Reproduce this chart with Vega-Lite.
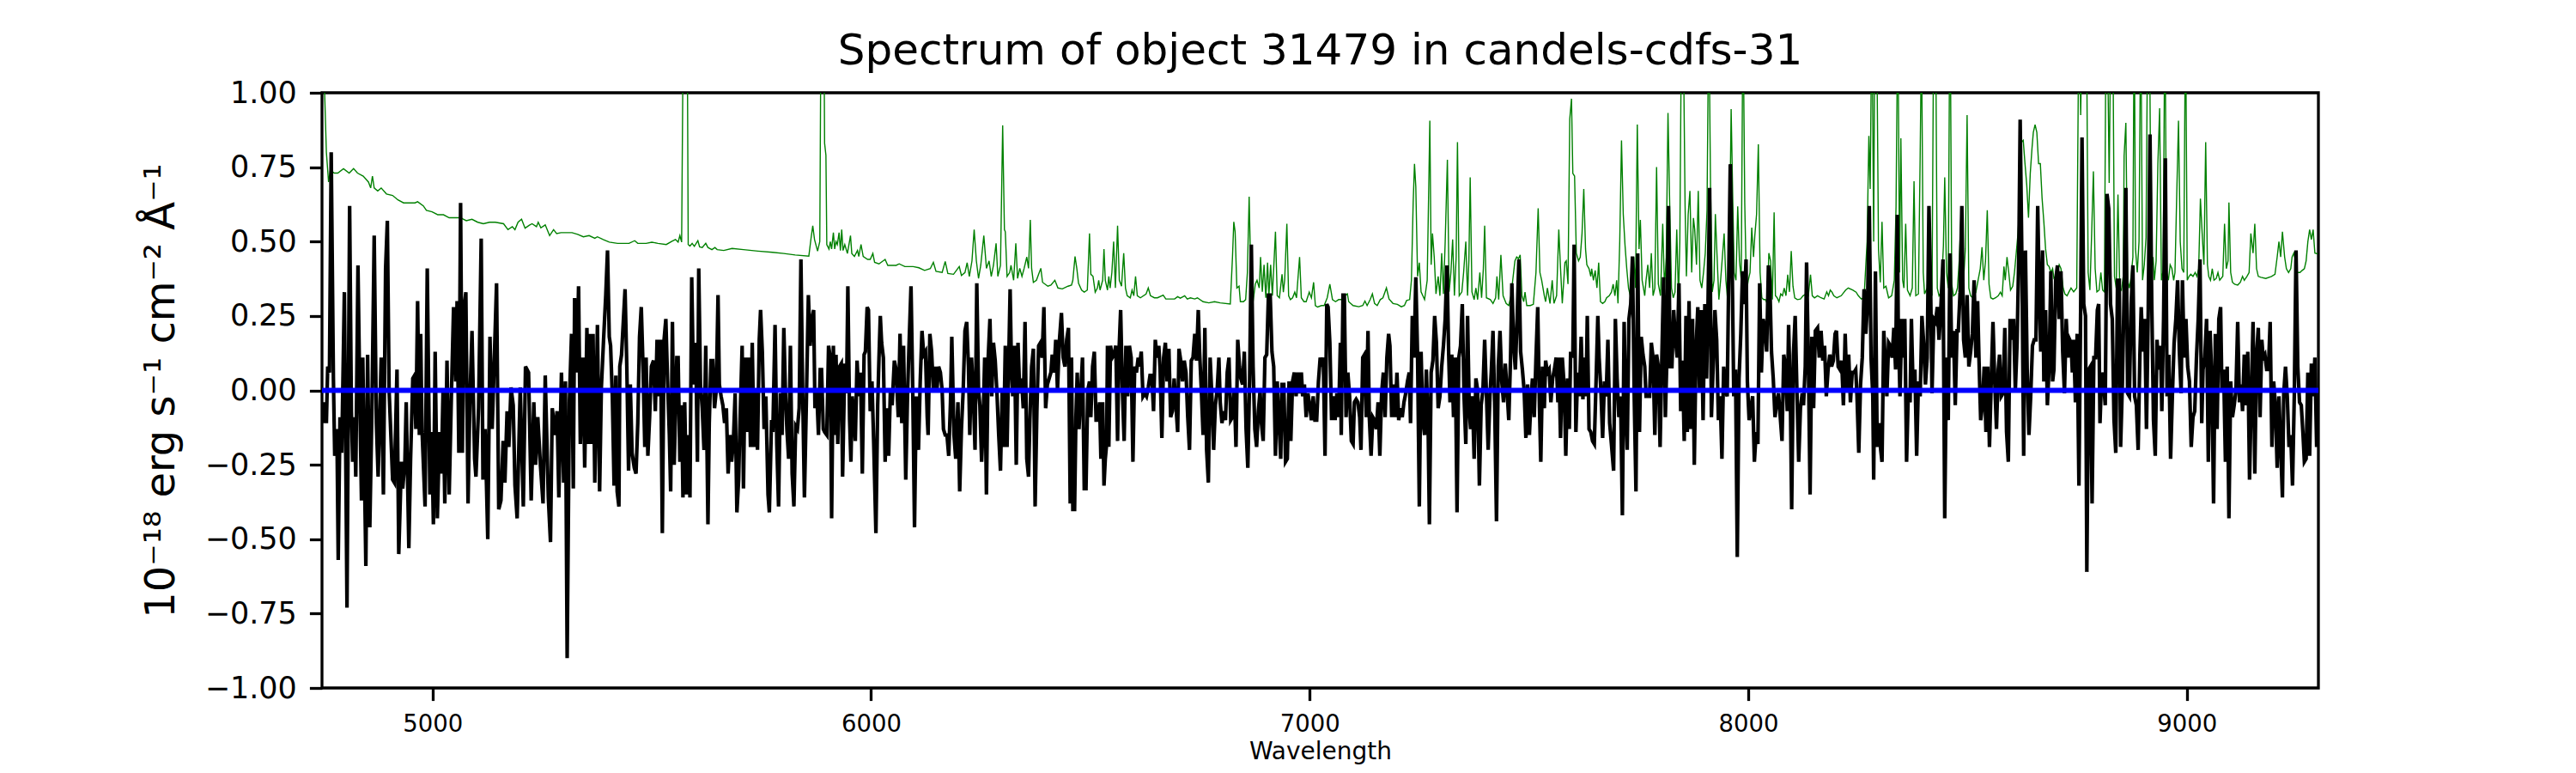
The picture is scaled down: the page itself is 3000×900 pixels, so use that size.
{
  "$schema": "https://vega.github.io/schema/vega-lite/v6.json",
  "width": 2325,
  "height": 693,
  "autosize": "none",
  "padding": {"left": 375, "top": 108, "right": 300, "bottom": 99},
  "background": "white",
  "title": {
    "text": "Spectrum of object 31479 in candels-cdfs-31",
    "font": "DejaVu Sans",
    "fontSize": 50,
    "fontWeight": "normal",
    "color": "black",
    "anchor": "middle",
    "baseline": "alphabetic",
    "offset": 8,
    "dy": 42
  },
  "config": {
    "view": {"stroke": "black", "strokeWidth": 3.3},
    "font": "DejaVu Sans",
    "axis": {
      "grid": false,
      "domain": false,
      "ticks": true,
      "tickSize": 14.6,
      "tickWidth": 3.3,
      "tickColor": "black",
      "labelColor": "black",
      "titleColor": "black",
      "labelFont": "DejaVu Sans",
      "titleFont": "DejaVu Sans",
      "titleFontWeight": "normal",
      "labelFlush": false,
      "labelOverlap": false
    }
  },
  "datasets": {
    "sky": [
      {"wave":4749,"sky":1.5},{"wave":4754,"sky":1.0},{"wave":4758,"sky":0.8},{"wave":4763,"sky":0.70},{"wave":4767,"sky":0.74},{"wave":4776,"sky":0.73},{"wave":4784,"sky":0.73},{"wave":4797,"sky":0.745},{"wave":4810,"sky":0.73},{"wave":4820,"sky":0.745},{"wave":4829,"sky":0.73},{"wave":4842,"sky":0.72},{"wave":4854,"sky":0.70},{"wave":4859,"sky":0.68},{"wave":4863,"sky":0.72},{"wave":4867,"sky":0.68},{"wave":4875,"sky":0.67},{"wave":4883,"sky":0.68},{"wave":4895,"sky":0.66},{"wave":4909,"sky":0.655},{"wave":4921,"sky":0.64},{"wave":4934,"sky":0.63},{"wave":4947,"sky":0.63},{"wave":4960,"sky":0.63},{"wave":4966,"sky":0.634},{"wave":4979,"sky":0.62},{"wave":4986,"sky":0.605},{"wave":4999,"sky":0.60},{"wave":5012,"sky":0.59},{"wave":5025,"sky":0.59},{"wave":5038,"sky":0.58},{"wave":5051,"sky":0.58},{"wave":5064,"sky":0.58},{"wave":5077,"sky":0.57},{"wave":5090,"sky":0.575},{"wave":5103,"sky":0.565},{"wave":5116,"sky":0.56},{"wave":5130,"sky":0.565},{"wave":5143,"sky":0.565},{"wave":5162,"sky":0.56},{"wave":5172,"sky":0.54},{"wave":5182,"sky":0.55},{"wave":5188,"sky":0.54},{"wave":5195,"sky":0.565},{"wave":5203,"sky":0.575},{"wave":5211,"sky":0.545},{"wave":5221,"sky":0.555},{"wave":5227,"sky":0.56},{"wave":5237,"sky":0.55},{"wave":5241,"sky":0.565},{"wave":5247,"sky":0.546},{"wave":5257,"sky":0.556},{"wave":5267,"sky":0.52},{"wave":5276,"sky":0.54},{"wave":5283,"sky":0.527},{"wave":5293,"sky":0.53},{"wave":5306,"sky":0.53},{"wave":5318,"sky":0.53},
      {"wave":5331,"sky":0.524},{"wave":5344,"sky":0.516},{"wave":5357,"sky":0.52},{"wave":5370,"sky":0.511},{"wave":5376,"sky":0.516},{"wave":5389,"sky":0.507},{"wave":5403,"sky":0.498},{"wave":5422,"sky":0.494},{"wave":5448,"sky":0.494},{"wave":5461,"sky":0.503},{"wave":5468,"sky":0.494},{"wave":5487,"sky":0.494},{"wave":5500,"sky":0.498},{"wave":5514,"sky":0.494},{"wave":5533,"sky":0.49},{"wave":5546,"sky":0.501},{"wave":5554,"sky":0.507},{"wave":5560,"sky":0.498},{"wave":5564,"sky":0.52},{"wave":5568,"sky":0.498},{"wave":5573,"sky":1.5},{"wave":5576,"sky":2.0},{"wave":5580,"sky":1.5},{"wave":5583,"sky":0.49},{"wave":5587,"sky":0.485},{"wave":5592,"sky":0.494},{"wave":5597,"sky":0.484},{"wave":5605,"sky":0.503},{"wave":5609,"sky":0.482},{"wave":5615,"sky":0.48},{"wave":5623,"sky":0.494},{"wave":5628,"sky":0.48},{"wave":5637,"sky":0.473},{"wave":5644,"sky":0.48},{"wave":5649,"sky":0.473},{"wave":5664,"sky":0.47},{"wave":5683,"sky":0.477},{"wave":5709,"sky":0.473},{"wave":5742,"sky":0.468},{"wave":5775,"sky":0.464},{"wave":5801,"sky":0.46},{"wave":5827,"sky":0.455},{"wave":5858,"sky":0.451},{"wave":5863,"sky":0.51},{"wave":5867,"sky":0.553},{"wave":5871,"sky":0.507},{"wave":5878,"sky":0.468},{"wave":5883,"sky":0.5},{"wave":5887,"sky":1.6},
      {"wave":5891,"sky":1.6},{"wave":5894,"sky":0.83},{"wave":5897,"sky":0.79},{"wave":5899,"sky":0.49},{"wave":5904,"sky":0.475},{"wave":5907,"sky":0.5},{"wave":5910,"sky":0.475},{"wave":5914,"sky":0.53},{"wave":5917,"sky":0.475},{"wave":5920,"sky":0.5},{"wave":5923,"sky":0.49},{"wave":5927,"sky":0.53},{"wave":5930,"sky":0.47},{"wave":5933,"sky":0.54},{"wave":5936,"sky":0.47},{"wave":5940,"sky":0.49},{"wave":5946,"sky":0.46},{"wave":5953,"sky":0.52},{"wave":5956,"sky":0.46},{"wave":5962,"sky":0.45},{"wave":5969,"sky":0.47},{"wave":5972,"sky":0.45},{"wave":5977,"sky":0.49},{"wave":5982,"sky":0.45},{"wave":5992,"sky":0.44},{"wave":5998,"sky":0.44},{"wave":6004,"sky":0.46},{"wave":6008,"sky":0.43},{"wave":6018,"sky":0.425},{"wave":6032,"sky":0.44},{"wave":6038,"sky":0.42},{"wave":6057,"sky":0.42},{"wave":6064,"sky":0.425},{"wave":6077,"sky":0.416},{"wave":6096,"sky":0.416},{"wave":6109,"sky":0.412},{"wave":6122,"sky":0.403},{"wave":6135,"sky":0.409},{"wave":6142,"sky":0.43},{"wave":6148,"sky":0.4},{"wave":6162,"sky":0.396},{"wave":6169,"sky":0.433},{"wave":6175,"sky":0.393},{"wave":6188,"sky":0.39},{"wave":6201,"sky":0.416},{"wave":6206,"sky":0.386},{"wave":6214,"sky":0.396},{"wave":6219,"sky":0.429},{"wave":6224,"sky":0.383},{"wave":6230,"sky":0.435},{"wave":6235,"sky":0.54},{"wave":6240,"sky":0.435},{"wave":6245,"sky":0.376},{"wave":6250,"sky":0.42},{"wave":6257,"sky":0.52},{"wave":6263,"sky":0.41},{"wave":6269,"sky":0.435},{"wave":6274,"sky":0.383},{"wave":6279,"sky":0.42},{"wave":6285,"sky":0.494},{"wave":6289,"sky":0.383},{"wave":6295,"sky":0.42},{"wave":6300,"sky":0.89},{"wave":6304,"sky":0.54},{"wave":6306,"sky":0.533},{"wave":6310,"sky":0.383},{"wave":6316,"sky":0.396},{"wave":6319,"sky":0.42},{"wave":6325,"sky":0.37},{"wave":6330,"sky":0.494},{"wave":6334,"sky":0.376},{"wave":6339,"sky":0.41},{"wave":6344,"sky":0.383},{"wave":6349,"sky":0.41},{"wave":6355,"sky":0.448},{"wave":6359,"sky":0.41},{"wave":6363,"sky":0.573},{"wave":6366,"sky":0.41},{"wave":6370,"sky":0.363},{"wave":6377,"sky":0.37},{"wave":6382,"sky":0.39},{"wave":6387,"sky":0.41},{"wave":6391,"sky":0.363},{"wave":6403,"sky":0.35},{"wave":6410,"sky":0.354},{"wave":6419,"sky":0.37},{"wave":6426,"sky":0.344},{"wave":6436,"sky":0.341},{"wave":6449,"sky":0.35},{"wave":6457,"sky":0.354},
      {"wave":6460,"sky":0.37},{"wave":6465,"sky":0.45},{"wave":6469,"sky":0.41},{"wave":6473,"sky":0.36},{"wave":6480,"sky":0.337},{"wave":6486,"sky":0.33},{"wave":6493,"sky":0.337},{"wave":6498,"sky":0.527},{"wave":6501,"sky":0.39},{"wave":6506,"sky":0.383},{"wave":6511,"sky":0.33},{"wave":6516,"sky":0.344},{"wave":6519,"sky":0.37},{"wave":6522,"sky":0.337},{"wave":6528,"sky":0.37},{"wave":6531,"sky":0.475},{"wave":6534,"sky":0.37},{"wave":6539,"sky":0.337},{"wave":6542,"sky":0.383},{"wave":6545,"sky":0.344},{"wave":6549,"sky":0.396},{"wave":6553,"sky":0.5},{"wave":6557,"sky":0.344},{"wave":6562,"sky":0.553},{"wave":6566,"sky":0.37},{"wave":6571,"sky":0.35},{"wave":6576,"sky":0.461},{"wave":6580,"sky":0.344},{"wave":6584,"sky":0.318},{"wave":6591,"sky":0.311},{"wave":6595,"sky":0.337},{"wave":6599,"sky":0.318},{"wave":6603,"sky":0.383},{"wave":6607,"sky":0.318},{"wave":6614,"sky":0.311},{"wave":6627,"sky":0.324},{"wave":6632,"sky":0.344},{"wave":6637,"sky":0.318},{"wave":6646,"sky":0.311},{"wave":6653,"sky":0.311},{"wave":6666,"sky":0.32},{"wave":6672,"sky":0.307},{"wave":6692,"sky":0.307},{"wave":6699,"sky":0.315},{"wave":6705,"sky":0.31},{"wave":6715,"sky":0.318},{"wave":6721,"sky":0.307},{"wave":6728,"sky":0.311},{"wave":6738,"sky":0.307},{"wave":6744,"sky":0.311},{"wave":6757,"sky":0.298},{"wave":6770,"sky":0.294},{"wave":6783,"sky":0.298},{"wave":6796,"sky":0.294},{"wave":6819,"sky":0.29},{"wave":6824,"sky":0.448},{"wave":6827,"sky":0.566},{"wave":6830,"sky":0.533},{"wave":6834,"sky":0.344},{"wave":6839,"sky":0.35},{"wave":6842,"sky":0.298},{"wave":6849,"sky":0.298},{"wave":6854,"sky":0.305},{"wave":6858,"sky":0.396},{"wave":6862,"sky":0.651},{"wave":6866,"sky":0.37},{"wave":6871,"sky":0.298},{"wave":6876,"sky":0.357},{"wave":6880,"sky":0.37},{"wave":6885,"sky":0.344},{"wave":6888,"sky":0.448},{"wave":6892,"sky":0.331},{"wave":6896,"sky":0.422},{"wave":6900,"sky":0.311},{"wave":6904,"sky":0.429},{"wave":6907,"sky":0.318},{"wave":6911,"sky":0.422},{"wave":6915,"sky":0.318},{"wave":6922,"sky":0.533},{"wave":6926,"sky":0.318},{"wave":6931,"sky":0.311},{"wave":6937,"sky":0.39},{"wave":6940,"sky":0.33},{"wave":6943,"sky":0.37},{"wave":6948,"sky":0.56},{"wave":6952,"sky":0.318},{"wave":6956,"sky":0.305},{"wave":6961,"sky":0.311},{"wave":6966,"sky":0.33},{"wave":6970,"sky":0.311},{"wave":6973,"sky":0.37},{"wave":6977,"sky":0.448},{"wave":6981,"sky":0.311},{"wave":6987,"sky":0.298},{"wave":6992,"sky":0.298},{"wave":6999,"sky":0.33},{"wave":7004,"sky":0.311},{"wave":7009,"sky":0.363},{"wave":7013,"sky":0.285},{"wave":7018,"sky":0.28},{"wave":7027,"sky":0.285},
      {"wave":7033,"sky":0.285},{"wave":7040,"sky":0.311},{"wave":7046,"sky":0.357},{"wave":7052,"sky":0.305},{"wave":7059,"sky":0.298},{"wave":7066,"sky":0.305},{"wave":7072,"sky":0.305},{"wave":7079,"sky":0.318},{"wave":7086,"sky":0.324},{"wave":7089,"sky":0.298},{"wave":7099,"sky":0.285},{"wave":7112,"sky":0.281},{"wave":7121,"sky":0.285},{"wave":7126,"sky":0.3},{"wave":7131,"sky":0.285},{"wave":7138,"sky":0.305},{"wave":7143,"sky":0.324},{"wave":7148,"sky":0.292},{"wave":7154,"sky":0.285},{"wave":7161,"sky":0.305},{"wave":7167,"sky":0.311},{"wave":7175,"sky":0.344},{"wave":7181,"sky":0.307},{"wave":7190,"sky":0.292},{"wave":7200,"sky":0.289},{"wave":7209,"sky":0.281},{"wave":7216,"sky":0.285},{"wave":7221,"sky":0.302},{"wave":7228,"sky":0.305},{"wave":7232,"sky":0.37},{"wave":7236,"sky":0.631},{"wave":7239,"sky":0.761},{"wave":7242,"sky":0.684},{"wave":7246,"sky":0.383},{"wave":7250,"sky":0.429},{"wave":7254,"sky":0.331},{"wave":7262,"sky":0.305},{"wave":7268,"sky":0.37},{"wave":7274,"sky":0.906},{"wave":7277,"sky":0.422},{"wave":7280,"sky":0.527},{"wave":7284,"sky":0.448},{"wave":7288,"sky":0.324},{"wave":7293,"sky":0.383},{"wave":7297,"sky":0.318},{"wave":7301,"sky":0.461},{"wave":7305,"sky":0.324},{"wave":7309,"sky":0.5},{"wave":7314,"sky":0.775},{"wave":7318,"sky":0.331},{"wave":7322,"sky":0.396},{"wave":7326,"sky":0.507},{"wave":7330,"sky":0.318},{"wave":7334,"sky":0.448},{"wave":7337,"sky":0.834},{"wave":7341,"sky":0.318},{"wave":7347,"sky":0.331},{"wave":7351,"sky":0.396},{"wave":7356,"sky":0.5},{"wave":7360,"sky":0.318},{"wave":7363,"sky":0.435},{"wave":7366,"sky":0.716},{"wave":7370,"sky":0.331},{"wave":7375,"sky":0.305},{"wave":7379,"sky":0.344},{"wave":7383,"sky":0.305},{"wave":7388,"sky":0.396},{"wave":7392,"sky":0.311},{"wave":7396,"sky":0.409},{"wave":7399,"sky":0.553},{"wave":7403,"sky":0.311},{"wave":7412,"sky":0.305},{"wave":7418,"sky":0.292},{"wave":7424,"sky":0.311},{"wave":7427,"sky":0.383},{"wave":7431,"sky":0.305},{"wave":7436,"sky":0.455},{"wave":7441,"sky":0.318},{"wave":7448,"sky":0.292},{"wave":7454,"sky":0.285},{"wave":7459,"sky":0.318},{"wave":7463,"sky":0.37},{"wave":7468,"sky":0.435},{"wave":7472,"sky":0.448},{"wave":7476,"sky":0.442},{"wave":7480,"sky":0.455},{"wave":7484,"sky":0.318},{"wave":7488,"sky":0.298},{"wave":7491,"sky":0.33},{"wave":7495,"sky":0.285},{"wave":7503,"sky":0.285},{"wave":7510,"sky":0.289},{"wave":7516,"sky":0.396},{"wave":7521,"sky":0.612},{"wave":7525,"sky":0.396},{"wave":7529,"sky":0.37},{"wave":7535,"sky":0.318},{"wave":7538,"sky":0.298},{"wave":7542,"sky":0.344},{"wave":7548,"sky":0.292},{"wave":7553,"sky":0.37},{"wave":7557,"sky":0.292},{"wave":7563,"sky":0.318},{"wave":7568,"sky":0.54},{"wave":7572,"sky":0.409},{"wave":7576,"sky":0.292},{"wave":7582,"sky":0.429},{"wave":7585,"sky":0.435},{"wave":7589,"sky":0.357},{"wave":7593,"sky":0.912},{"wave":7597,"sky":0.98},
      {"wave":7600,"sky":0.729},{"wave":7604,"sky":0.72},{"wave":7608,"sky":0.461},{"wave":7613,"sky":0.435},{"wave":7617,"sky":0.448},{"wave":7621,"sky":0.527},{"wave":7625,"sky":0.677},{"wave":7629,"sky":0.475},{"wave":7632,"sky":0.422},{"wave":7637,"sky":0.409},{"wave":7641,"sky":0.383},{"wave":7643,"sky":0.409},{"wave":7647,"sky":0.37},{"wave":7651,"sky":0.403},{"wave":7655,"sky":0.344},{"wave":7659,"sky":0.429},{"wave":7663,"sky":0.298},{"wave":7668,"sky":0.292},{"wave":7673,"sky":0.298},{"wave":7677,"sky":0.311},{"wave":7683,"sky":0.318},{"wave":7688,"sky":0.33},{"wave":7692,"sky":0.357},{"wave":7696,"sky":0.318},{"wave":7700,"sky":0.37},{"wave":7703,"sky":0.292},{"wave":7707,"sky":0.5},{"wave":7711,"sky":0.84},{"wave":7715,"sky":0.592},{"wave":7719,"sky":0.488},{"wave":7723,"sky":0.409},{"wave":7727,"sky":0.344},{"wave":7731,"sky":0.318},{"wave":7735,"sky":0.357},{"wave":7739,"sky":0.448},{"wave":7743,"sky":0.344},{"wave":7747,"sky":0.893},{"wave":7751,"sky":0.475},{"wave":7754,"sky":0.573},{"wave":7758,"sky":0.37},{"wave":7764,"sky":0.318},{"wave":7767,"sky":0.37},{"wave":7771,"sky":0.422},{"wave":7775,"sky":0.344},{"wave":7779,"sky":0.461},{"wave":7783,"sky":0.318},{"wave":7787,"sky":0.344},{"wave":7791,"sky":0.75},{"wave":7795,"sky":0.357},{"wave":7800,"sky":0.318},{"wave":7805,"sky":0.56},{"wave":7809,"sky":0.344},{"wave":7813,"sky":0.448},{"wave":7817,"sky":0.932},{"wave":7821,"sky":0.618},{"wave":7825,"sky":0.344},{"wave":7829,"sky":0.311},{"wave":7833,"sky":0.33},{"wave":7837,"sky":0.54},{"wave":7841,"sky":0.311},{"wave":7844,"sky":0.5},{"wave":7848,"sky":1.3},{"wave":7852,"sky":1.2},{"wave":7856,"sky":0.618},{"wave":7859,"sky":0.383},{"wave":7863,"sky":0.59},{"wave":7867,"sky":0.67},{"wave":7871,"sky":0.396},{"wave":7875,"sky":0.579},{"wave":7878,"sky":0.54},{"wave":7882,"sky":0.422},{"wave":7886,"sky":0.67},{"wave":7890,"sky":0.37},{"wave":7894,"sky":0.344},{"wave":7898,"sky":0.396},{"wave":7902,"sky":0.461},{"wave":7906,"sky":0.605},{"wave":7910,"sky":1.3},{"wave":7914,"sky":0.684},{"wave":7918,"sky":0.331},{"wave":7922,"sky":0.37},{"wave":7925,"sky":0.592},{"wave":7929,"sky":0.448},{"wave":7933,"sky":0.305},{"wave":7937,"sky":0.37},{"wave":7941,"sky":0.448},{"wave":7945,"sky":0.527},{"wave":7949,"sky":0.37},{"wave":7953,"sky":0.305},{"wave":7957,"sky":0.461},{"wave":7961,"sky":0.945},{"wave":7965,"sky":0.618},{"wave":7968,"sky":0.396},{"wave":7972,"sky":0.37},{"wave":7976,"sky":0.618},{"wave":7980,"sky":0.435},{"wave":7984,"sky":0.37},{"wave":7988,"sky":1.3},{"wave":7992,"sky":0.631},{"wave":7996,"sky":0.331},{"wave":8000,"sky":0.37},{"wave":8004,"sky":0.396},{"wave":8008,"sky":0.547},{"wave":8012,"sky":0.448},{"wave":8015,"sky":0.52},{"wave":8019,"sky":0.592},{"wave":8023,"sky":0.827},{"wave":8027,"sky":0.396},{"wave":8031,"sky":0.311},{"wave":8035,"sky":0.305},{"wave":8039,"sky":0.305},{"wave":8043,"sky":0.292},{"wave":8047,"sky":0.461},{"wave":8051,"sky":0.435},{"wave":8055,"sky":0.305},{"wave":8059,"sky":0.598},{"wave":8062,"sky":0.318},{"wave":8066,"sky":0.311},{"wave":8070,"sky":0.298},{"wave":8074,"sky":0.324},{"wave":8078,"sky":0.318},{"wave":8082,"sky":0.344},{"wave":8086,"sky":0.318},{"wave":8090,"sky":0.389},{"wave":8094,"sky":0.331},{"wave":8098,"sky":0.468},{"wave":8102,"sky":0.35},{"wave":8106,"sky":0.311},{"wave":8112,"sky":0.305},{"wave":8119,"sky":0.307},{"wave":8125,"sky":0.318},{"wave":8132,"sky":0.324},{"wave":8137,"sky":0.318},{"wave":8142,"sky":0.389},{"wave":8146,"sky":0.318},{"wave":8151,"sky":0.311},{"wave":8158,"sky":0.318},{"wave":8166,"sky":0.311},
      {"wave":8173,"sky":0.307},{"wave":8179,"sky":0.331},{"wave":8183,"sky":0.318},{"wave":8187,"sky":0.337},{"wave":8191,"sky":0.33},{"wave":8195,"sky":0.318},{"wave":8202,"sky":0.311},{"wave":8212,"sky":0.318},{"wave":8222,"sky":0.337},{"wave":8228,"sky":0.344},{"wave":8238,"sky":0.337},{"wave":8246,"sky":0.33},{"wave":8251,"sky":0.318},{"wave":8258,"sky":0.307},{"wave":8264,"sky":0.311},{"wave":8271,"sky":0.5},{"wave":8275,"sky":0.855},{"wave":8278,"sky":0.677},{"wave":8282,"sky":1.3},{"wave":8286,"sky":0.5},{"wave":8289,"sky":1.4},{"wave":8293,"sky":1.2},{"wave":8297,"sky":0.475},{"wave":8301,"sky":0.363},{"wave":8305,"sky":0.566},{"wave":8309,"sky":0.344},{"wave":8314,"sky":0.35},{"wave":8320,"sky":0.311},{"wave":8327,"sky":0.318},{"wave":8333,"sky":0.37},{"wave":8337,"sky":0.618},{"wave":8341,"sky":1.3},{"wave":8345,"sky":0.396},{"wave":8348,"sky":0.847},{"wave":8352,"sky":0.37},{"wave":8355,"sky":0.344},{"wave":8359,"sky":0.56},{"wave":8363,"sky":0.337},{"wave":8369,"sky":0.318},{"wave":8374,"sky":0.344},{"wave":8378,"sky":0.703},{"wave":8382,"sky":0.318},{"wave":8388,"sky":0.324},{"wave":8392,"sky":0.79},{"wave":8395,"sky":1.2},{"wave":8399,"sky":0.396},{"wave":8402,"sky":0.324},{"wave":8408,"sky":0.344},{"wave":8412,"sky":0.448},{"wave":8415,"sky":0.396},{"wave":8419,"sky":0.318},{"wave":8423,"sky":1.3},{"wave":8427,"sky":1.3},{"wave":8431,"sky":0.344},{"wave":8435,"sky":0.318},{"wave":8440,"sky":0.33},{"wave":8445,"sky":0.486},{"wave":8448,"sky":0.716},{"wave":8452,"sky":0.396},{"wave":8456,"sky":0.344},{"wave":8460,"sky":1.4},{"wave":8464,"sky":0.357},{"wave":8468,"sky":0.318},{"wave":8473,"sky":0.324},{"wave":8477,"sky":0.344},{"wave":8481,"sky":0.435},{"wave":8485,"sky":0.58},{"wave":8490,"sky":0.344},{"wave":8495,"sky":0.475},{"wave":8499,"sky":0.925},{"wave":8503,"sky":0.344},{"wave":8507,"sky":0.318},{"wave":8512,"sky":0.311},{"wave":8519,"sky":0.33},{"wave":8524,"sky":0.37},{"wave":8529,"sky":0.409},{"wave":8533,"sky":0.481},{"wave":8537,"sky":0.37},{"wave":8541,"sky":0.435},{"wave":8545,"sky":0.605},{"wave":8549,"sky":0.357},{"wave":8553,"sky":0.311},{"wave":8558,"sky":0.307},{"wave":8564,"sky":0.311},{"wave":8570,"sky":0.318},{"wave":8575,"sky":0.33},{"wave":8579,"sky":0.318},{"wave":8583,"sky":0.416},{"wave":8586,"sky":0.37},{"wave":8590,"sky":0.448},{"wave":8594,"sky":0.396},{"wave":8598,"sky":0.337},{"wave":8603,"sky":0.35},{"wave":8607,"sky":0.396},{"wave":8611,"sky":0.461},{"wave":8615,"sky":0.527},{"wave":8619,"sky":0.631},{"wave":8623,"sky":0.834},{"wave":8627,"sky":0.84},{"wave":8631,"sky":0.762},{"wave":8635,"sky":0.69},{"wave":8639,"sky":0.58},{"wave":8643,"sky":0.729},{"wave":8647,"sky":0.814},{"wave":8650,"sky":0.867},{"wave":8654,"sky":0.893},{"wave":8658,"sky":0.867},{"wave":8662,"sky":0.762},{"wave":8666,"sky":0.762},{"wave":8670,"sky":0.645},{"wave":8674,"sky":0.566},{"wave":8678,"sky":0.475},{"wave":8682,"sky":0.422},{"wave":8686,"sky":0.416},{"wave":8690,"sky":0.396},{"wave":8694,"sky":0.409},{"wave":8697,"sky":0.377},{"wave":8701,"sky":0.383},{"wave":8705,"sky":0.396},{"wave":8709,"sky":0.422},{"wave":8713,"sky":0.409},{"wave":8718,"sky":0.344},{"wave":8722,"sky":0.324},{"wave":8727,"sky":0.318},{"wave":8731,"sky":0.33},{"wave":8736,"sky":0.344},
      {"wave":8742,"sky":0.331},{"wave":8749,"sky":0.344},{"wave":8754,"sky":1.3},{"wave":8758,"sky":0.925},{"wave":8762,"sky":1.3},{"wave":8767,"sky":1.4},{"wave":8771,"sky":1.3},{"wave":8775,"sky":0.396},{"wave":8779,"sky":0.337},{"wave":8783,"sky":0.527},{"wave":8787,"sky":0.736},{"wave":8791,"sky":0.409},{"wave":8795,"sky":0.331},{"wave":8800,"sky":0.337},{"wave":8804,"sky":0.396},{"wave":8808,"sky":0.337},{"wave":8812,"sky":0.331},{"wave":8816,"sky":1.3},{"wave":8819,"sky":1.2},{"wave":8823,"sky":0.697},{"wave":8827,"sky":1.3},{"wave":8831,"sky":1.3},{"wave":8835,"sky":0.383},{"wave":8839,"sky":0.344},{"wave":8843,"sky":0.658},{"wave":8847,"sky":0.344},{"wave":8851,"sky":0.337},{"wave":8855,"sky":0.383},{"wave":8857,"sky":0.788},{"wave":8861,"sky":0.899},{"wave":8865,"sky":0.37},{"wave":8869,"sky":0.344},{"wave":8873,"sky":0.383},{"wave":8877,"sky":0.448},{"wave":8880,"sky":1.3},{"wave":8883,"sky":0.475},{"wave":8887,"sky":0.396},{"wave":8891,"sky":0.5},{"wave":8895,"sky":1.3},{"wave":8899,"sky":0.37},{"wave":8903,"sky":0.422},{"wave":8907,"sky":0.514},{"wave":8911,"sky":1.3},{"wave":8915,"sky":1.2},{"wave":8919,"sky":0.396},{"wave":8923,"sky":0.448},{"wave":8926,"sky":0.37},{"wave":8930,"sky":0.435},{"wave":8934,"sky":0.762},{"wave":8938,"sky":0.948},{"wave":8942,"sky":0.37},{"wave":8946,"sky":0.403},{"wave":8950,"sky":1.3},{"wave":8954,"sky":0.396},{"wave":8958,"sky":0.37},{"wave":8962,"sky":0.422},{"wave":8966,"sky":0.409},{"wave":8970,"sky":0.37},{"wave":8973,"sky":0.396},{"wave":8977,"sky":0.658},{"wave":8981,"sky":0.906},{"wave":8985,"sky":0.5},{"wave":8989,"sky":0.409},{"wave":8993,"sky":0.396},{"wave":8997,"sky":1.3},{"wave":9001,"sky":0.37},{"wave":9005,"sky":0.383},{"wave":9009,"sky":0.39},{"wave":9014,"sky":0.383},{"wave":9019,"sky":0.396},{"wave":9023,"sky":0.383},{"wave":9027,"sky":0.409},{"wave":9031,"sky":0.644},{"wave":9035,"sky":0.527},{"wave":9039,"sky":0.422},{"wave":9043,"sky":0.834},{"wave":9047,"sky":0.422},{"wave":9050,"sky":0.383},{"wave":9054,"sky":0.37},{"wave":9058,"sky":0.409},{"wave":9062,"sky":0.37},{"wave":9067,"sky":0.376},{"wave":9071,"sky":0.396},{"wave":9075,"sky":0.37},{"wave":9082,"sky":0.383},{"wave":9086,"sky":0.56},{"wave":9090,"sky":0.409},{"wave":9094,"sky":0.435},{"wave":9096,"sky":0.631},{"wave":9100,"sky":0.396},{"wave":9104,"sky":0.363},{"wave":9109,"sky":0.357},{"wave":9116,"sky":0.354},{"wave":9122,"sky":0.363},{"wave":9127,"sky":0.383},{"wave":9131,"sky":0.37},{"wave":9137,"sky":0.383},{"wave":9142,"sky":0.396},{"wave":9146,"sky":0.527},{"wave":9151,"sky":0.461},{"wave":9155,"sky":0.56},{"wave":9159,"sky":0.409},{"wave":9163,"sky":0.383},{"wave":9169,"sky":0.38},{"wave":9180,"sky":0.376},{"wave":9193,"sky":0.383},{"wave":9201,"sky":0.39},{"wave":9206,"sky":0.448},{"wave":9210,"sky":0.5},{"wave":9214,"sky":0.448},{"wave":9218,"sky":0.533},{"wave":9223,"sky":0.448},{"wave":9227,"sky":0.409},{"wave":9232,"sky":0.396},{"wave":9237,"sky":0.409},{"wave":9240,"sky":0.448},{"wave":9244,"sky":0.461},{"wave":9248,"sky":0.435},{"wave":9251,"sky":0.396},{"wave":9258,"sky":0.396},{"wave":9263,"sky":0.403},{"wave":9268,"sky":0.409},{"wave":9272,"sky":0.435},{"wave":9276,"sky":0.5},{"wave":9280,"sky":0.54},{"wave":9284,"sky":0.507},{"wave":9288,"sky":0.54},{"wave":9292,"sky":0.461},{"wave":9298,"sky":0.459}
    ],
    "flux": [
      {"wave":4750,"flux":-0.11},{"wave":4754,"flux":-0.04},{"wave":4758,"flux":-0.11},{"wave":4761,"flux":0.08},{"wave":4765,"flux":0.06},{"wave":4769,"flux":0.80},{"wave":4774,"flux":0.04},{"wave":4777,"flux":-0.22},{"wave":4782,"flux":-0.13},{"wave":4785,"flux":-0.57},{"wave":4789,"flux":-0.09},{"wave":4793,"flux":-0.21},{"wave":4799,"flux":0.33},{"wave":4802,"flux":-0.19},{"wave":4805,"flux":-0.73},{"wave":4811,"flux":0.62},{"wave":4815,"flux":-0.07},{"wave":4818,"flux":-0.24},{"wave":4822,"flux":-0.09},{"wave":4825,"flux":-0.29},{"wave":4830,"flux":0.42},{"wave":4835,"flux":-0.10},{"wave":4838,"flux":-0.37},{"wave":4841,"flux":0.11},{"wave":4848,"flux":-0.59},{"wave":4852,"flux":0.12},{"wave":4857,"flux":-0.46},{"wave":4862,"flux":-0.05},{"wave":4867,"flux":0.52},{"wave":4872,"flux":-0.11},{"wave":4876,"flux":-0.29},{"wave":4883,"flux":0.11},{"wave":4888,"flux":-0.35},{"wave":4893,"flux":0.41},{"wave":4897,"flux":0.57},{"wave":4901,"flux":0.0},{"wave":4909,"flux":-0.30},{"wave":4913,"flux":-0.31},{"wave":4919,"flux":0.07},{"wave":4923,"flux":-0.55},{"wave":4929,"flux":-0.24},{"wave":4932,"flux":-0.33},{"wave":4937,"flux":-0.24},{"wave":4940,"flux":-0.04},{"wave":4946,"flux":-0.53},{"wave":4950,"flux":-0.23},{"wave":4955,"flux":0.04},{"wave":4959,"flux":0.05},{"wave":4962,"flux":-0.13},{"wave":4966,"flux":0.30},{"wave":4970,"flux":-0.15},{"wave":4973,"flux":0.19},{"wave":4976,"flux":-0.13},{"wave":4983,"flux":-0.39},{"wave":4988,"flux":0.41},{"wave":4994,"flux":-0.35},{"wave":4998,"flux":-0.14},{"wave":5002,"flux":-0.45},{"wave":5006,"flux":0.13},{"wave":5011,"flux":-0.43},{"wave":5016,"flux":-0.14},{"wave":5020,"flux":-0.28},{"wave":5024,"flux":0.0},{"wave":5028,"flux":-0.38},{"wave":5033,"flux":0.10},{"wave":5038,"flux":-0.35},{"wave":5043,"flux":-0.02},{"wave":5048,"flux":0.28},{"wave":5053,"flux":0.03},{"wave":5056,"flux":0.30},{"wave":5060,"flux":-0.21},{"wave":5064,"flux":0.63},{"wave":5068,"flux":-0.21},{"wave":5072,"flux":0.28},{"wave":5076,"flux":0.33},{"wave":5081,"flux":-0.38},{"wave":5085,"flux":-0.05},{"wave":5090,"flux":0.20},{"wave":5096,"flux":-0.23},{"wave":5099,"flux":-0.29},{"wave":5105,"flux":-0.06},{"wave":5111,"flux":0.51},{"wave":5115,"flux":-0.30},{"wave":5120,"flux":-0.13},{"wave":5126,"flux":-0.50},{"wave":5131,"flux":0.18},{"wave":5136,"flux":-0.13},{"wave":5140,"flux":0.06},{"wave":5146,"flux":0.36},{"wave":5151,"flux":-0.40},{"wave":5156,"flux":-0.37},{"wave":5161,"flux":-0.17},{"wave":5165,"flux":-0.31},{"wave":5170,"flux":-0.07},{"wave":5174,"flux":-0.19},{"wave":5179,"flux":0.01},{"wave":5184,"flux":-0.05},{"wave":5188,"flux":-0.32},{"wave":5193,"flux":-0.43},{"wave":5200,"flux":0.01},{"wave":5207,"flux":-0.39},{"wave":5212,"flux":0.08},{"wave":5219,"flux":0.06},{"wave":5225,"flux":-0.37},{"wave":5231,"flux":-0.04},{"wave":5235,"flux":-0.25},{"wave":5240,"flux":-0.09},{"wave":5246,"flux":-0.25},{"wave":5252,"flux":-0.38},{"wave":5257,"flux":0.05},{"wave":5264,"flux":-0.36},{"wave":5269,"flux":-0.51},{"wave":5273,"flux":-0.06},{"wave":5280,"flux":-0.15},{"wave":5284,"flux":-0.07},{"wave":5288,"flux":-0.36},{"wave":5294,"flux":0.06},{"wave":5299,"flux":-0.31},{"wave":5303,"flux":0.03},{"wave":5307,"flux":-0.90},{"wave":5312,"flux":-0.04},{"wave":5317,"flux":0.19},
      {"wave":5321,"flux":-0.33},{"wave":5324,"flux":0.31},{"wave":5329,"flux":0.06},{"wave":5333,"flux":0.35},{"wave":5337,"flux":-0.18},{"wave":5343,"flux":0.11},{"wave":5347,"flux":-0.26},{"wave":5352,"flux":0.21},{"wave":5356,"flux":-0.18},{"wave":5358,"flux":0.19},{"wave":5362,"flux":-0.18},{"wave":5366,"flux":0.19},{"wave":5370,"flux":-0.31},{"wave":5373,"flux":-0.06},{"wave":5376,"flux":0.22},{"wave":5381,"flux":-0.34},{"wave":5385,"flux":0.01},{"wave":5390,"flux":0.17},{"wave":5395,"flux":0.32},{"wave":5399,"flux":0.47},{"wave":5403,"flux":0.18},{"wave":5406,"flux":0.15},{"wave":5410,"flux":-0.02},{"wave":5414,"flux":-0.32},{"wave":5418,"flux":0.05},{"wave":5421,"flux":-0.34},{"wave":5425,"flux":-0.39},{"wave":5427,"flux":0.08},{"wave":5431,"flux":0.12},{"wave":5435,"flux":0.23},{"wave":5439,"flux":0.34},{"wave":5443,"flux":0.08},{"wave":5447,"flux":-0.27},{"wave":5451,"flux":0.02},{"wave":5455,"flux":-0.21},{"wave":5460,"flux":-0.26},{"wave":5464,"flux":-0.28},{"wave":5468,"flux":-0.11},{"wave":5472,"flux":0.18},{"wave":5476,"flux":0.28},{"wave":5480,"flux":0.08},{"wave":5484,"flux":-0.19},{"wave":5487,"flux":0.11},{"wave":5491,"flux":-0.22},{"wave":5495,"flux":-0.09},{"wave":5499,"flux":0.08},{"wave":5504,"flux":0.10},{"wave":5508,"flux":-0.07},{"wave":5512,"flux":0.17},{"wave":5516,"flux":-0.02},{"wave":5520,"flux":0.17},{"wave":5524,"flux":-0.48},{"wave":5528,"flux":0.17},{"wave":5532,"flux":0.24},{"wave":5536,"flux":0.03},{"wave":5540,"flux":-0.15},{"wave":5543,"flux":-0.34},{"wave":5547,"flux":0.23},{"wave":5551,"flux":-0.25},{"wave":5557,"flux":0.11},{"wave":5560,"flux":0.11},{"wave":5564,"flux":-0.24},{"wave":5568,"flux":-0.05},{"wave":5571,"flux":-0.36},{"wave":5575,"flux":-0.04},{"wave":5579,"flux":-0.35},{"wave":5583,"flux":-0.15},{"wave":5587,"flux":-0.36},{"wave":5591,"flux":0.38},{"wave":5595,"flux":0.02},{"wave":5600,"flux":0.16},{"wave":5604,"flux":-0.24},{"wave":5607,"flux":0.41},{"wave":5611,"flux":0.02},{"wave":5615,"flux":-0.06},{"wave":5619,"flux":-0.20},{"wave":5623,"flux":0.15},{"wave":5628,"flux":-0.45},{"wave":5631,"flux":-0.11},{"wave":5635,"flux":0.10},{"wave":5639,"flux":0.10},{"wave":5643,"flux":-0.06},{"wave":5647,"flux":0.0},{"wave":5651,"flux":0.32},{"wave":5654,"flux":0.02},{"wave":5658,"flux":-0.02},{"wave":5662,"flux":-0.05},{"wave":5666,"flux":-0.11},{"wave":5670,"flux":-0.06},{"wave":5674,"flux":-0.28},{"wave":5678,"flux":-0.15},{"wave":5682,"flux":-0.24},{"wave":5686,"flux":-0.17},{"wave":5690,"flux":-0.01},{"wave":5694,"flux":-0.41},{"wave":5698,"flux":-0.30},{"wave":5701,"flux":-0.11},{"wave":5706,"flux":0.15},{"wave":5709,"flux":-0.33},{"wave":5713,"flux":0.11},{"wave":5717,"flux":-0.14},{"wave":5721,"flux":0.11},{"wave":5725,"flux":-0.19},{"wave":5729,"flux":0.16},{"wave":5733,"flux":-0.19},{"wave":5737,"flux":0.0},{"wave":5741,"flux":-0.20},{"wave":5745,"flux":0.17},{"wave":5748,"flux":0.27},{"wave":5752,"flux":0.13},{"wave":5756,"flux":-0.13},{"wave":5760,"flux":-0.02},{"wave":5765,"flux":-0.35},{"wave":5768,"flux":-0.41},{"wave":5773,"flux":-0.10},{"wave":5776,"flux":-0.14},{"wave":5781,"flux":0.22},{"wave":5785,"flux":-0.18},{"wave":5789,"flux":-0.39},{"wave":5793,"flux":-0.01},{"wave":5797,"flux":-0.15},{"wave":5801,"flux":0.21},{"wave":5805,"flux":-0.02},{"wave":5808,"flux":-0.13},{"wave":5812,"flux":-0.23},{"wave":5816,"flux":0.15},{"wave":5820,"flux":-0.28},{"wave":5824,"flux":-0.39},{"wave":5828,"flux":-0.12},{"wave":5832,"flux":-0.13},{"wave":5836,"flux":-0.06},{"wave":5840,"flux":0.44},{"wave":5844,"flux":-0.01},{"wave":5848,"flux":-0.36},{"wave":5852,"flux":-0.07},{"wave":5857,"flux":0.32},{"wave":5861,"flux":0.15},{"wave":5865,"flux":0.24},{"wave":5869,"flux":0.27},{"wave":5872,"flux":-0.06},{"wave":5876,"flux":0.0},{"wave":5880,"flux":-0.15},{"wave":5884,"flux":0.07},
      {"wave":5887,"flux":0.07},{"wave":5891,"flux":-0.13},{"wave":5894,"flux":-0.14},{"wave":5899,"flux":-0.15},{"wave":5903,"flux":0.15},{"wave":5907,"flux":0.11},{"wave":5910,"flux":-0.43},{"wave":5914,"flux":0.15},{"wave":5917,"flux":-0.15},{"wave":5920,"flux":0.12},{"wave":5924,"flux":-0.18},{"wave":5928,"flux":0.08},{"wave":5932,"flux":0.09},{"wave":5935,"flux":-0.29},{"wave":5940,"flux":0.09},{"wave":5944,"flux":-0.01},{"wave":5947,"flux":0.35},{"wave":5951,"flux":-0.10},{"wave":5954,"flux":-0.24},{"wave":5957,"flux":-0.02},{"wave":5961,"flux":-0.09},{"wave":5964,"flux":-0.17},{"wave":5968,"flux":0.10},{"wave":5972,"flux":-0.02},{"wave":5976,"flux":0.06},{"wave":5980,"flux":-0.28},{"wave":5984,"flux":0.12},{"wave":5987,"flux":0.13},{"wave":5991,"flux":0.28},{"wave":5994,"flux":0.27},{"wave":5998,"flux":-0.07},{"wave":6002,"flux":0.03},{"wave":6006,"flux":-0.18},{"wave":6011,"flux":-0.48},{"wave":6015,"flux":-0.05},{"wave":6018,"flux":0.11},{"wave":6021,"flux":0.25},{"wave":6024,"flux":0.16},{"wave":6028,"flux":0.11},{"wave":6032,"flux":-0.24},{"wave":6036,"flux":-0.06},{"wave":6040,"flux":-0.22},{"wave":6044,"flux":0.0},{"wave":6048,"flux":-0.05},{"wave":6053,"flux":0.10},{"wave":6057,"flux":0.07},{"wave":6062,"flux":-0.09},{"wave":6066,"flux":0.19},{"wave":6070,"flux":-0.11},{"wave":6074,"flux":0.15},{"wave":6079,"flux":-0.30},{"wave":6083,"flux":-0.02},{"wave":6086,"flux":0.13},{"wave":6091,"flux":0.35},{"wave":6095,"flux":0.0},{"wave":6099,"flux":-0.46},{"wave":6103,"flux":-0.02},{"wave":6108,"flux":-0.20},{"wave":6112,"flux":0.03},{"wave":6116,"flux":0.20},{"wave":6120,"flux":0.12},{"wave":6124,"flux":0.13},{"wave":6128,"flux":-0.09},{"wave":6130,"flux":-0.15},{"wave":6134,"flux":0.19},{"wave":6138,"flux":0.13},{"wave":6142,"flux":0.0},{"wave":6146,"flux":0.08},{"wave":6150,"flux":0.0},{"wave":6154,"flux":0.08},{"wave":6158,"flux":0.06},{"wave":6162,"flux":0.0},{"wave":6165,"flux":-0.13},{"wave":6169,"flux":-0.15},{"wave":6173,"flux":-0.15},{"wave":6177,"flux":-0.22},{"wave":6181,"flux":-0.04},{"wave":6184,"flux":0.18},{"wave":6189,"flux":-0.15},{"wave":6193,"flux":-0.23},{"wave":6198,"flux":-0.04},{"wave":6202,"flux":-0.34},{"wave":6206,"flux":-0.13},{"wave":6210,"flux":0.0},{"wave":6214,"flux":0.20},{"wave":6218,"flux":0.23},{"wave":6222,"flux":0.08},{"wave":6225,"flux":-0.15},{"wave":6229,"flux":0.11},{"wave":6233,"flux":-0.01},{"wave":6237,"flux":-0.20},{"wave":6241,"flux":0.36},{"wave":6245,"flux":0.0},{"wave":6248,"flux":-0.05},{"wave":6252,"flux":-0.24},{"wave":6255,"flux":-0.13},{"wave":6259,"flux":0.11},{"wave":6263,"flux":-0.35},{"wave":6267,"flux":0.11},{"wave":6271,"flux":0.24},{"wave":6275,"flux":-0.02},{"wave":6279,"flux":0.16},{"wave":6283,"flux":0.10},{"wave":6287,"flux":-0.01},{"wave":6291,"flux":-0.15},{"wave":6295,"flux":-0.27},{"wave":6299,"flux":0.0},{"wave":6302,"flux":-0.19},{"wave":6306,"flux":0.15},{"wave":6310,"flux":-0.19},{"wave":6314,"flux":0.11},{"wave":6317,"flux":0.34},{"wave":6320,"flux":0.08},{"wave":6323,"flux":-0.02},{"wave":6327,"flux":0.15},{"wave":6331,"flux":-0.25},{"wave":6335,"flux":0.16},{"wave":6339,"flux":-0.01},{"wave":6343,"flux":0.04},{"wave":6347,"flux":-0.06},{"wave":6351,"flux":0.23},{"wave":6355,"flux":-0.23},{"wave":6359,"flux":-0.29},{"wave":6362,"flux":-0.10},{"wave":6366,"flux":0.08},{"wave":6370,"flux":0.14},{"wave":6374,"flux":-0.39},{"wave":6378,"flux":-0.07},{"wave":6382,"flux":0.15},{"wave":6386,"flux":0.16},{"wave":6390,"flux":0.11},{"wave":6394,"flux":0.28},{"wave":6398,"flux":-0.06},{"wave":6402,"flux":0.02},{"wave":6406,"flux":0.04},{"wave":6410,"flux":0.06},{"wave":6413,"flux":0.12},{"wave":6417,"flux":0.06},{"wave":6421,"flux":0.17},{"wave":6425,"flux":0.0},{"wave":6429,"flux":0.16},{"wave":6434,"flux":0.26},{"wave":6438,"flux":0.11},{"wave":6442,"flux":0.08},{"wave":6446,"flux":0.17},{"wave":6450,"flux":0.21},{"wave":6454,"flux":-0.38},{"wave":6457,"flux":0.11},
      {"wave":6460,"flux":-0.40},{"wave":6464,"flux":-0.40},{"wave":6467,"flux":-0.09},{"wave":6470,"flux":0.06},{"wave":6474,"flux":-0.13},{"wave":6478,"flux":-0.01},{"wave":6482,"flux":0.11},{"wave":6486,"flux":-0.33},{"wave":6490,"flux":-0.33},{"wave":6494,"flux":0.0},{"wave":6498,"flux":0.03},{"wave":6501,"flux":-0.09},{"wave":6505,"flux":0.08},{"wave":6509,"flux":0.13},{"wave":6513,"flux":-0.10},{"wave":6517,"flux":-0.10},{"wave":6521,"flux":-0.04},{"wave":6524,"flux":-0.23},{"wave":6528,"flux":-0.04},{"wave":6531,"flux":-0.32},{"wave":6534,"flux":-0.23},{"wave":6537,"flux":-0.18},{"wave":6539,"flux":0.15},{"wave":6542,"flux":-0.19},{"wave":6546,"flux":0.15},{"wave":6550,"flux":0.11},{"wave":6554,"flux":0.12},{"wave":6558,"flux":0.15},{"wave":6562,"flux":-0.17},{"wave":6565,"flux":0.12},{"wave":6569,"flux":0.27},{"wave":6573,"flux":0.0},{"wave":6577,"flux":-0.17},{"wave":6581,"flux":0.15},{"wave":6585,"flux":-0.02},{"wave":6589,"flux":0.15},{"wave":6593,"flux":0.11},{"wave":6597,"flux":-0.24},{"wave":6601,"flux":0.08},{"wave":6605,"flux":0.06},{"wave":6609,"flux":0.11},{"wave":6612,"flux":0.08},{"wave":6616,"flux":0.13},{"wave":6620,"flux":-0.02},{"wave":6624,"flux":-0.01},{"wave":6628,"flux":-0.02},{"wave":6632,"flux":0.01},{"wave":6636,"flux":0.05},{"wave":6640,"flux":0.05},{"wave":6644,"flux":-0.07},{"wave":6648,"flux":0.17},{"wave":6652,"flux":0.11},{"wave":6656,"flux":0.15},{"wave":6659,"flux":0.07},{"wave":6663,"flux":-0.16},{"wave":6667,"flux":0.11},{"wave":6671,"flux":0.16},{"wave":6675,"flux":0.03},{"wave":6679,"flux":0.14},{"wave":6683,"flux":-0.09},{"wave":6687,"flux":-0.07},{"wave":6691,"flux":0.04},{"wave":6695,"flux":-0.05},{"wave":6699,"flux":-0.14},{"wave":6702,"flux":0.14},{"wave":6706,"flux":0.10},{"wave":6710,"flux":0.03},{"wave":6714,"flux":0.10},{"wave":6718,"flux":0.06},{"wave":6722,"flux":-0.09},{"wave":6726,"flux":-0.20},{"wave":6730,"flux":0.10},{"wave":6734,"flux":0.11},{"wave":6738,"flux":0.19},{"wave":6742,"flux":0.10},{"wave":6746,"flux":0.27},{"wave":6749,"flux":0.13},{"wave":6753,"flux":0.0},{"wave":6757,"flux":-0.15},{"wave":6761,"flux":0.21},{"wave":6765,"flux":-0.20},{"wave":6769,"flux":-0.31},{"wave":6773,"flux":0.11},{"wave":6777,"flux":-0.02},{"wave":6781,"flux":-0.20},{"wave":6785,"flux":-0.05},{"wave":6789,"flux":0.0},{"wave":6793,"flux":0.11},{"wave":6796,"flux":-0.04},{"wave":6800,"flux":-0.11},{"wave":6804,"flux":-0.07},{"wave":6808,"flux":-0.10},{"wave":6812,"flux":0.06},{"wave":6816,"flux":0.11},{"wave":6820,"flux":-0.10},{"wave":6824,"flux":-0.09},{"wave":6828,"flux":0.0},{"wave":6832,"flux":-0.19},{"wave":6836,"flux":0.17},{"wave":6840,"flux":0.08},{"wave":6843,"flux":0.04},{"wave":6847,"flux":0.02},{"wave":6851,"flux":0.13},{"wave":6855,"flux":-0.13},{"wave":6859,"flux":-0.26},{"wave":6863,"flux":0.03},{"wave":6867,"flux":0.49},{"wave":6871,"flux":0.08},{"wave":6875,"flux":-0.13},{"wave":6879,"flux":-0.19},{"wave":6883,"flux":-0.07},{"wave":6887,"flux":0.0},{"wave":6890,"flux":-0.11},{"wave":6894,"flux":-0.17},{"wave":6898,"flux":0.11},{"wave":6902,"flux":0.12},{"wave":6906,"flux":0.32},{"wave":6910,"flux":0.32},{"wave":6914,"flux":0.13},{"wave":6918,"flux":0.08},{"wave":6922,"flux":-0.22},{"wave":6926,"flux":0.03},{"wave":6930,"flux":-0.10},{"wave":6934,"flux":-0.23},{"wave":6937,"flux":0.02},{"wave":6941,"flux":0.02},{"wave":6945,"flux":-0.24},{"wave":6949,"flux":-0.23},{"wave":6953,"flux":0.03},{"wave":6957,"flux":-0.17},{"wave":6961,"flux":0.03},{"wave":6965,"flux":0.06},{"wave":6969,"flux":-0.02},{"wave":6973,"flux":0.06},{"wave":6977,"flux":-0.01},{"wave":6981,"flux":0.06},{"wave":6984,"flux":-0.02},{"wave":6988,"flux":0.02},{"wave":6992,"flux":-0.09},{"wave":6996,"flux":-0.01},{"wave":7000,"flux":-0.05},{"wave":7004,"flux":-0.10},{"wave":7008,"flux":-0.02},{"wave":7012,"flux":-0.10},{"wave":7016,"flux":-0.10},{"wave":7020,"flux":0.03},{"wave":7024,"flux":0.11},{"wave":7027,"flux":0.08},
      {"wave":7031,"flux":0.11},{"wave":7035,"flux":-0.22},{"wave":7039,"flux":0.29},{"wave":7042,"flux":0.28},{"wave":7046,"flux":0.16},{"wave":7050,"flux":-0.10},{"wave":7054,"flux":-0.02},{"wave":7058,"flux":-0.10},{"wave":7062,"flux":-0.01},{"wave":7066,"flux":-0.09},{"wave":7070,"flux":0.16},{"wave":7072,"flux":-0.15},{"wave":7076,"flux":0.32},{"wave":7079,"flux":0.32},{"wave":7083,"flux":-0.09},{"wave":7087,"flux":0.06},{"wave":7091,"flux":-0.02},{"wave":7095,"flux":-0.17},{"wave":7099,"flux":-0.18},{"wave":7102,"flux":-0.04},{"wave":7106,"flux":-0.03},{"wave":7110,"flux":-0.04},{"wave":7114,"flux":-0.09},{"wave":7117,"flux":-0.20},{"wave":7121,"flux":0.11},{"wave":7125,"flux":0.12},{"wave":7129,"flux":-0.09},{"wave":7133,"flux":0.20},{"wave":7136,"flux":-0.09},{"wave":7140,"flux":-0.22},{"wave":7144,"flux":-0.09},{"wave":7148,"flux":-0.10},{"wave":7152,"flux":-0.13},{"wave":7156,"flux":-0.04},{"wave":7160,"flux":-0.22},{"wave":7164,"flux":-0.01},{"wave":7168,"flux":0.06},{"wave":7172,"flux":-0.09},{"wave":7176,"flux":0.11},{"wave":7180,"flux":0.19},{"wave":7183,"flux":0.15},{"wave":7187,"flux":-0.09},{"wave":7191,"flux":0.02},{"wave":7195,"flux":-0.09},{"wave":7199,"flux":0.06},{"wave":7203,"flux":-0.10},{"wave":7207,"flux":-0.06},{"wave":7211,"flux":-0.09},{"wave":7215,"flux":-0.04},{"wave":7219,"flux":-0.01},{"wave":7223,"flux":0.03},{"wave":7227,"flux":0.06},{"wave":7230,"flux":-0.11},{"wave":7234,"flux":0.25},{"wave":7238,"flux":0.11},{"wave":7242,"flux":0.38},{"wave":7246,"flux":0.12},{"wave":7250,"flux":-0.39},{"wave":7254,"flux":0.13},{"wave":7258,"flux":-0.10},{"wave":7262,"flux":-0.15},{"wave":7266,"flux":0.07},{"wave":7270,"flux":-0.11},{"wave":7273,"flux":-0.45},{"wave":7277,"flux":0.06},{"wave":7281,"flux":0.10},{"wave":7285,"flux":0.25},{"wave":7289,"flux":0.16},{"wave":7293,"flux":-0.06},{"wave":7297,"flux":-0.02},{"wave":7301,"flux":0.08},{"wave":7305,"flux":0.15},{"wave":7309,"flux":0.24},{"wave":7313,"flux":0.42},{"wave":7317,"flux":0.12},{"wave":7320,"flux":-0.04},{"wave":7324,"flux":0.12},{"wave":7328,"flux":-0.09},{"wave":7332,"flux":0.11},{"wave":7336,"flux":-0.41},{"wave":7340,"flux":0.11},{"wave":7344,"flux":0.15},{"wave":7348,"flux":0.29},{"wave":7352,"flux":-0.02},{"wave":7356,"flux":-0.18},{"wave":7360,"flux":0.25},{"wave":7364,"flux":-0.07},{"wave":7367,"flux":-0.13},{"wave":7371,"flux":-0.02},{"wave":7375,"flux":-0.23},{"wave":7379,"flux":0.04},{"wave":7383,"flux":0.0},{"wave":7387,"flux":-0.32},{"wave":7391,"flux":-0.05},{"wave":7395,"flux":0.0},{"wave":7399,"flux":0.17},{"wave":7403,"flux":-0.01},{"wave":7407,"flux":-0.20},{"wave":7411,"flux":-0.02},{"wave":7414,"flux":0.06},{"wave":7418,"flux":0.20},{"wave":7422,"flux":-0.06},{"wave":7426,"flux":-0.44},{"wave":7430,"flux":0.08},{"wave":7434,"flux":0.20},{"wave":7438,"flux":0.03},{"wave":7442,"flux":-0.04},{"wave":7446,"flux":0.09},{"wave":7450,"flux":0.0},{"wave":7454,"flux":-0.10},{"wave":7458,"flux":0.11},{"wave":7461,"flux":0.36},{"wave":7465,"flux":0.16},{"wave":7469,"flux":0.07},{"wave":7473,"flux":0.24},{"wave":7477,"flux":0.44},{"wave":7481,"flux":0.13},{"wave":7485,"flux":0.07},{"wave":7489,"flux":0.0},{"wave":7493,"flux":-0.16},{"wave":7497,"flux":0.02},{"wave":7501,"flux":-0.15},{"wave":7505,"flux":-0.02},{"wave":7508,"flux":0.04},{"wave":7512,"flux":-0.09},{"wave":7516,"flux":0.11},{"wave":7520,"flux":0.28},{"wave":7524,"flux":-0.06},{"wave":7527,"flux":-0.24},{"wave":7531,"flux":0.08},{"wave":7535,"flux":-0.06},{"wave":7538,"flux":0.10},{"wave":7542,"flux":0.06},{"wave":7546,"flux":0.07},{"wave":7550,"flux":-0.04},{"wave":7554,"flux":0.04},{"wave":7558,"flux":0.07},{"wave":7562,"flux":0.11},{"wave":7566,"flux":-0.04},{"wave":7568,"flux":0.11},{"wave":7572,"flux":-0.16},{"wave":7576,"flux":0.11},{"wave":7580,"flux":0.02},{"wave":7584,"flux":-0.22},{"wave":7588,"flux":0.04},{"wave":7592,"flux":-0.13},{"wave":7595,"flux":0.13},
      {"wave":7600,"flux":0.11},{"wave":7603,"flux":0.49},{"wave":7607,"flux":-0.14},{"wave":7611,"flux":0.06},{"wave":7615,"flux":-0.02},{"wave":7619,"flux":0.18},{"wave":7623,"flux":-0.03},{"wave":7627,"flux":0.11},{"wave":7630,"flux":-0.02},{"wave":7633,"flux":0.25},{"wave":7637,"flux":-0.13},{"wave":7641,"flux":-0.14},{"wave":7645,"flux":-0.17},{"wave":7649,"flux":-0.18},{"wave":7653,"flux":0.03},{"wave":7657,"flux":0.25},{"wave":7660,"flux":0.11},{"wave":7664,"flux":0.0},{"wave":7668,"flux":-0.16},{"wave":7672,"flux":0.03},{"wave":7676,"flux":-0.02},{"wave":7680,"flux":0.17},{"wave":7684,"flux":-0.11},{"wave":7688,"flux":-0.18},{"wave":7693,"flux":-0.27},{"wave":7697,"flux":0.24},{"wave":7701,"flux":0.04},{"wave":7705,"flux":-0.09},{"wave":7709,"flux":-0.02},{"wave":7713,"flux":-0.42},{"wave":7717,"flux":0.23},{"wave":7720,"flux":-0.02},{"wave":7724,"flux":-0.20},{"wave":7728,"flux":0.24},{"wave":7732,"flux":0.29},{"wave":7736,"flux":0.45},{"wave":7740,"flux":-0.02},{"wave":7744,"flux":-0.34},{"wave":7748,"flux":0.46},{"wave":7752,"flux":-0.14},{"wave":7756,"flux":0.18},{"wave":7760,"flux":0.12},{"wave":7764,"flux":0.08},{"wave":7767,"flux":-0.02},{"wave":7771,"flux":-0.02},{"wave":7775,"flux":-0.02},{"wave":7779,"flux":0.16},{"wave":7783,"flux":0.11},{"wave":7787,"flux":-0.15},{"wave":7791,"flux":0.12},{"wave":7795,"flux":0.08},{"wave":7799,"flux":-0.19},{"wave":7803,"flux":0.11},{"wave":7807,"flux":0.38},{"wave":7811,"flux":-0.09},{"wave":7814,"flux":0.08},{"wave":7818,"flux":0.62},{"wave":7822,"flux":0.08},{"wave":7826,"flux":0.08},{"wave":7830,"flux":0.27},{"wave":7834,"flux":0.17},{"wave":7838,"flux":0.11},{"wave":7842,"flux":0.36},{"wave":7846,"flux":-0.07},{"wave":7850,"flux":0.10},{"wave":7854,"flux":-0.17},{"wave":7858,"flux":0.25},{"wave":7861,"flux":-0.14},{"wave":7865,"flux":0.30},{"wave":7869,"flux":-0.13},{"wave":7873,"flux":0.24},{"wave":7877,"flux":-0.25},{"wave":7881,"flux":0.14},{"wave":7885,"flux":0.28},{"wave":7889,"flux":0.0},{"wave":7893,"flux":0.27},{"wave":7897,"flux":-0.10},{"wave":7901,"flux":0.29},{"wave":7905,"flux":0.04},{"wave":7908,"flux":0.26},{"wave":7912,"flux":0.68},{"wave":7916,"flux":-0.09},{"wave":7920,"flux":0.08},{"wave":7924,"flux":0.27},{"wave":7928,"flux":0.17},{"wave":7932,"flux":-0.10},{"wave":7936,"flux":-0.02},{"wave":7940,"flux":-0.23},{"wave":7944,"flux":0.08},{"wave":7948,"flux":0.0},{"wave":7952,"flux":-0.02},{"wave":7955,"flux":0.33},{"wave":7959,"flux":0.76},{"wave":7963,"flux":0.46},{"wave":7967,"flux":-0.02},{"wave":7971,"flux":0.07},{"wave":7975,"flux":-0.56},{"wave":7979,"flux":0.04},{"wave":7983,"flux":0.19},{"wave":7987,"flux":0.40},{"wave":7991,"flux":0.29},{"wave":7995,"flux":0.44},{"wave":7998,"flux":0.03},{"wave":8002,"flux":-0.10},{"wave":8006,"flux":-0.06},{"wave":8010,"flux":-0.02},{"wave":8014,"flux":-0.24},{"wave":8018,"flux":-0.14},{"wave":8022,"flux":-0.18},{"wave":8026,"flux":0.36},{"wave":8030,"flux":0.06},{"wave":8034,"flux":0.24},{"wave":8038,"flux":0.21},{"wave":8042,"flux":0.13},{"wave":8046,"flux":0.42},{"wave":8049,"flux":0.37},{"wave":8053,"flux":0.13},{"wave":8057,"flux":0.04},{"wave":8061,"flux":-0.09},{"wave":8065,"flux":-0.04},{"wave":8069,"flux":-0.01},{"wave":8073,"flux":-0.09},{"wave":8077,"flux":-0.17},{"wave":8081,"flux":0.12},{"wave":8085,"flux":0.08},{"wave":8089,"flux":-0.07},{"wave":8092,"flux":0.22},{"wave":8096,"flux":-0.02},{"wave":8099,"flux":-0.40},{"wave":8103,"flux":0.12},{"wave":8107,"flux":0.25},{"wave":8111,"flux":0.0},{"wave":8115,"flux":-0.24},{"wave":8119,"flux":-0.06},{"wave":8123,"flux":-0.01},{"wave":8126,"flux":-0.05},{"wave":8130,"flux":0.08},{"wave":8133,"flux":0.43},{"wave":8137,"flux":0.11},{"wave":8141,"flux":-0.35},{"wave":8145,"flux":0.18},{"wave":8149,"flux":-0.06},{"wave":8153,"flux":0.20},{"wave":8158,"flux":0.21},{"wave":8162,"flux":0.11},{"wave":8166,"flux":0.20},
      {"wave":8170,"flux":0.10},{"wave":8174,"flux":0.15},{"wave":8178,"flux":-0.02},{"wave":8182,"flux":0.07},{"wave":8186,"flux":0.12},{"wave":8190,"flux":0.08},{"wave":8194,"flux":0.10},{"wave":8198,"flux":0.19},{"wave":8201,"flux":0.20},{"wave":8205,"flux":0.08},{"wave":8209,"flux":0.07},{"wave":8213,"flux":0.10},{"wave":8217,"flux":-0.05},{"wave":8221,"flux":0.19},{"wave":8225,"flux":0.0},{"wave":8229,"flux":0.12},{"wave":8233,"flux":-0.04},{"wave":8237,"flux":0.06},{"wave":8241,"flux":0.06},{"wave":8245,"flux":0.07},{"wave":8248,"flux":-0.02},{"wave":8252,"flux":-0.21},{"wave":8256,"flux":0.02},{"wave":8260,"flux":0.11},{"wave":8264,"flux":0.34},{"wave":8268,"flux":0.19},{"wave":8272,"flux":0.29},{"wave":8276,"flux":0.62},{"wave":8280,"flux":0.11},{"wave":8284,"flux":-0.02},{"wave":8286,"flux":-0.30},{"wave":8290,"flux":0.40},{"wave":8294,"flux":-0.19},{"wave":8298,"flux":-0.11},{"wave":8302,"flux":-0.20},{"wave":8305,"flux":-0.24},{"wave":8309,"flux":0.20},{"wave":8312,"flux":0.11},{"wave":8316,"flux":-0.02},{"wave":8320,"flux":0.16},{"wave":8324,"flux":0.15},{"wave":8328,"flux":0.11},{"wave":8332,"flux":0.21},{"wave":8336,"flux":0.07},{"wave":8340,"flux":0.59},{"wave":8342,"flux":0.22},{"wave":8346,"flux":-0.02},{"wave":8350,"flux":0.24},{"wave":8354,"flux":0.11},{"wave":8357,"flux":0.24},{"wave":8361,"flux":-0.24},{"wave":8365,"flux":0.0},{"wave":8369,"flux":-0.04},{"wave":8372,"flux":0.24},{"wave":8376,"flux":0.0},{"wave":8380,"flux":0.07},{"wave":8384,"flux":-0.22},{"wave":8388,"flux":0.03},{"wave":8392,"flux":-0.02},{"wave":8396,"flux":0.25},{"wave":8400,"flux":0.16},{"wave":8404,"flux":0.02},{"wave":8408,"flux":0.11},{"wave":8412,"flux":0.62},{"wave":8416,"flux":0.33},{"wave":8419,"flux":-0.01},{"wave":8423,"flux":0.24},{"wave":8427,"flux":0.23},{"wave":8431,"flux":0.28},{"wave":8435,"flux":0.17},{"wave":8439,"flux":0.27},{"wave":8444,"flux":0.44},{"wave":8448,"flux":-0.43},{"wave":8452,"flux":0.11},{"wave":8456,"flux":-0.10},{"wave":8460,"flux":0.46},{"wave":8464,"flux":0.11},{"wave":8468,"flux":0.20},{"wave":8472,"flux":-0.05},{"wave":8476,"flux":0.20},{"wave":8479,"flux":0.20},{"wave":8483,"flux":0.33},{"wave":8487,"flux":0.62},{"wave":8491,"flux":0.17},{"wave":8495,"flux":0.11},{"wave":8499,"flux":0.32},{"wave":8503,"flux":0.08},{"wave":8507,"flux":0.13},{"wave":8511,"flux":0.19},{"wave":8515,"flux":0.37},{"wave":8519,"flux":0.11},{"wave":8523,"flux":0.30},{"wave":8526,"flux":0.11},{"wave":8530,"flux":-0.10},{"wave":8534,"flux":-0.05},{"wave":8538,"flux":0.08},{"wave":8542,"flux":-0.14},{"wave":8546,"flux":0.08},{"wave":8550,"flux":-0.19},{"wave":8554,"flux":0.03},{"wave":8558,"flux":0.23},{"wave":8562,"flux":0.03},{"wave":8566,"flux":-0.13},{"wave":8570,"flux":0.07},{"wave":8573,"flux":0.12},{"wave":8577,"flux":-0.02},{"wave":8581,"flux":-0.01},{"wave":8585,"flux":0.21},{"wave":8589,"flux":-0.14},{"wave":8593,"flux":-0.24},{"wave":8597,"flux":0.24},{"wave":8601,"flux":0.17},{"wave":8605,"flux":0.24},{"wave":8609,"flux":0.0},{"wave":8613,"flux":0.16},{"wave":8617,"flux":0.47},{"wave":8620,"flux":0.91},{"wave":8624,"flux":0.43},{"wave":8628,"flux":-0.22},{"wave":8632,"flux":0.47},{"wave":8636,"flux":0.07},{"wave":8640,"flux":-0.15},{"wave":8644,"flux":-0.02},{"wave":8648,"flux":0.15},{"wave":8652,"flux":0.17},{"wave":8656,"flux":0.17},{"wave":8660,"flux":0.62},{"wave":8664,"flux":0.29},{"wave":8667,"flux":0.13},{"wave":8671,"flux":0.47},{"wave":8674,"flux":0.03},{"wave":8678,"flux":0.27},{"wave":8682,"flux":-0.05},{"wave":8686,"flux":0.08},{"wave":8690,"flux":0.40},{"wave":8694,"flux":0.03},{"wave":8697,"flux":0.07},{"wave":8701,"flux":0.37},{"wave":8705,"flux":0.42},{"wave":8709,"flux":0.24},{"wave":8713,"flux":0.40},{"wave":8717,"flux":0.13},{"wave":8721,"flux":-0.01},{"wave":8725,"flux":0.24},{"wave":8729,"flux":0.11},{"wave":8733,"flux":0.17},{"wave":8736,"flux":0.16},
      {"wave":8739,"flux":0.06},{"wave":8742,"flux":0.17},{"wave":8746,"flux":-0.04},{"wave":8750,"flux":0.19},{"wave":8754,"flux":-0.32},{"wave":8758,"flux":0.29},{"wave":8761,"flux":0.85},{"wave":8765,"flux":0.29},{"wave":8769,"flux":0.25},{"wave":8772,"flux":-0.61},{"wave":8776,"flux":0.07},{"wave":8780,"flux":0.08},{"wave":8784,"flux":-0.38},{"wave":8788,"flux":0.11},{"wave":8792,"flux":0.11},{"wave":8796,"flux":0.27},{"wave":8799,"flux":0.29},{"wave":8802,"flux":-0.11},{"wave":8806,"flux":0.06},{"wave":8810,"flux":0.03},{"wave":8814,"flux":-0.05},{"wave":8818,"flux":0.66},{"wave":8822,"flux":0.61},{"wave":8826,"flux":0.29},{"wave":8830,"flux":0.24},{"wave":8834,"flux":-0.10},{"wave":8838,"flux":-0.21},{"wave":8842,"flux":0.37},{"wave":8846,"flux":0.37},{"wave":8849,"flux":-0.19},{"wave":8853,"flux":0.02},{"wave":8857,"flux":0.32},{"wave":8861,"flux":0.68},{"wave":8865,"flux":-0.01},{"wave":8869,"flux":-0.02},{"wave":8873,"flux":0.29},{"wave":8877,"flux":0.42},{"wave":8881,"flux":-0.02},{"wave":8885,"flux":-0.05},{"wave":8889,"flux":-0.20},{"wave":8893,"flux":0.12},{"wave":8896,"flux":0.28},{"wave":8900,"flux":0.13},{"wave":8904,"flux":0.24},{"wave":8908,"flux":-0.13},{"wave":8912,"flux":0.27},{"wave":8916,"flux":0.86},{"wave":8920,"flux":0.30},{"wave":8924,"flux":-0.10},{"wave":8928,"flux":-0.22},{"wave":8932,"flux":0.17},{"wave":8936,"flux":0.07},{"wave":8940,"flux":0.15},{"wave":8943,"flux":-0.07},{"wave":8947,"flux":0.24},{"wave":8951,"flux":0.78},{"wave":8955,"flux":-0.02},{"wave":8959,"flux":0.12},{"wave":8963,"flux":-0.23},{"wave":8967,"flux":-0.02},{"wave":8971,"flux":0.16},{"wave":8975,"flux":0.24},{"wave":8979,"flux":0.37},{"wave":8983,"flux":0.13},{"wave":8987,"flux":-0.01},{"wave":8990,"flux":0.37},{"wave":8994,"flux":0.11},{"wave":8998,"flux":0.24},{"wave":9002,"flux":0.08},{"wave":9006,"flux":0.03},{"wave":9010,"flux":-0.19},{"wave":9014,"flux":-0.09},{"wave":9018,"flux":-0.07},{"wave":9022,"flux":0.11},{"wave":9026,"flux":0.24},{"wave":9030,"flux":0.44},{"wave":9034,"flux":-0.11},{"wave":9037,"flux":0.07},{"wave":9041,"flux":0.11},{"wave":9045,"flux":0.24},{"wave":9049,"flux":-0.24},{"wave":9053,"flux":0.20},{"wave":9057,"flux":0.04},{"wave":9061,"flux":-0.38},{"wave":9065,"flux":0.19},{"wave":9069,"flux":-0.13},{"wave":9073,"flux":0.24},{"wave":9077,"flux":0.28},{"wave":9080,"flux":0.0},{"wave":9084,"flux":0.07},{"wave":9088,"flux":-0.24},{"wave":9092,"flux":0.08},{"wave":9096,"flux":-0.43},{"wave":9100,"flux":0.03},{"wave":9104,"flux":-0.09},{"wave":9108,"flux":-0.05},{"wave":9112,"flux":0.0},{"wave":9116,"flux":0.23},{"wave":9120,"flux":-0.04},{"wave":9124,"flux":0.02},{"wave":9127,"flux":-0.07},{"wave":9131,"flux":0.12},{"wave":9135,"flux":-0.05},{"wave":9139,"flux":0.13},{"wave":9143,"flux":-0.30},{"wave":9147,"flux":-0.02},{"wave":9151,"flux":0.23},{"wave":9155,"flux":-0.28},{"wave":9159,"flux":0.12},{"wave":9163,"flux":0.21},{"wave":9167,"flux":-0.09},{"wave":9171,"flux":0.17},{"wave":9174,"flux":0.11},{"wave":9178,"flux":0.12},{"wave":9182,"flux":0.07},{"wave":9186,"flux":0.07},{"wave":9190,"flux":0.23},{"wave":9194,"flux":-0.19},{"wave":9198,"flux":0.03},{"wave":9202,"flux":-0.05},{"wave":9206,"flux":-0.26},{"wave":9210,"flux":-0.02},{"wave":9214,"flux":-0.19},{"wave":9218,"flux":-0.36},{"wave":9221,"flux":-0.01},{"wave":9225,"flux":0.08},{"wave":9229,"flux":-0.02},{"wave":9233,"flux":-0.19},{"wave":9237,"flux":-0.15},{"wave":9241,"flux":-0.32},{"wave":9245,"flux":-0.02},{"wave":9249,"flux":0.47},{"wave":9253,"flux":0.08},{"wave":9257,"flux":-0.04},{"wave":9261,"flux":-0.05},{"wave":9265,"flux":-0.15},{"wave":9268,"flux":-0.24},{"wave":9272,"flux":-0.23},{"wave":9276,"flux":0.06},{"wave":9280,"flux":-0.22},{"wave":9284,"flux":0.09},{"wave":9288,"flux":-0.02},{"wave":9292,"flux":0.11},{"wave":9296,"flux":-0.19},{"wave":9298,"flux":-0.06}
    ]
  },
  "layer": [
    {
      "data": {"name": "sky"},
      "mark": {"type": "line", "color": "#008000", "strokeWidth": 1.4, "clip": true},
      "encoding": {
        "x": {
          "field": "wave",
          "type": "quantitative",
          "scale": {"domain": [4748, 9300], "nice": false, "zero": false},
          "axis": {
            "title": "Wavelength",
            "values": [5000, 6000, 7000, 8000, 9000],
            "format": "d",
            "labelFontSize": 27.5,
            "titleFontSize": 28,
            "labelPadding": 14,
            "titlePadding": 4
          }
        },
        "y": {
          "field": "sky",
          "type": "quantitative",
          "scale": {"domain": [-1, 1], "nice": false, "zero": false},
          "axis": {
            "title": "10⁻¹⁸ erg s⁻¹ cm⁻² Å⁻¹",
            "values": [-1, -0.75, -0.5, -0.25, 0, 0.25, 0.5, 0.75, 1],
            "format": ".2f",
            "labelFontSize": 35,
            "titleFontSize": 48,
            "labelPadding": 15,
            "titlePadding": 26
          }
        }
      }
    },
    {
      "data": {"name": "flux"},
      "mark": {"type": "line", "color": "black", "strokeWidth": 4.2, "clip": true},
      "encoding": {
        "x": {"field": "wave", "type": "quantitative"},
        "y": {"field": "flux", "type": "quantitative"}
      }
    },
    {
      "data": {"values": [{}]},
      "mark": {"type": "rule", "color": "#0000ff", "strokeWidth": 6},
      "encoding": {"y": {"datum": 0}}
    }
  ]
}
